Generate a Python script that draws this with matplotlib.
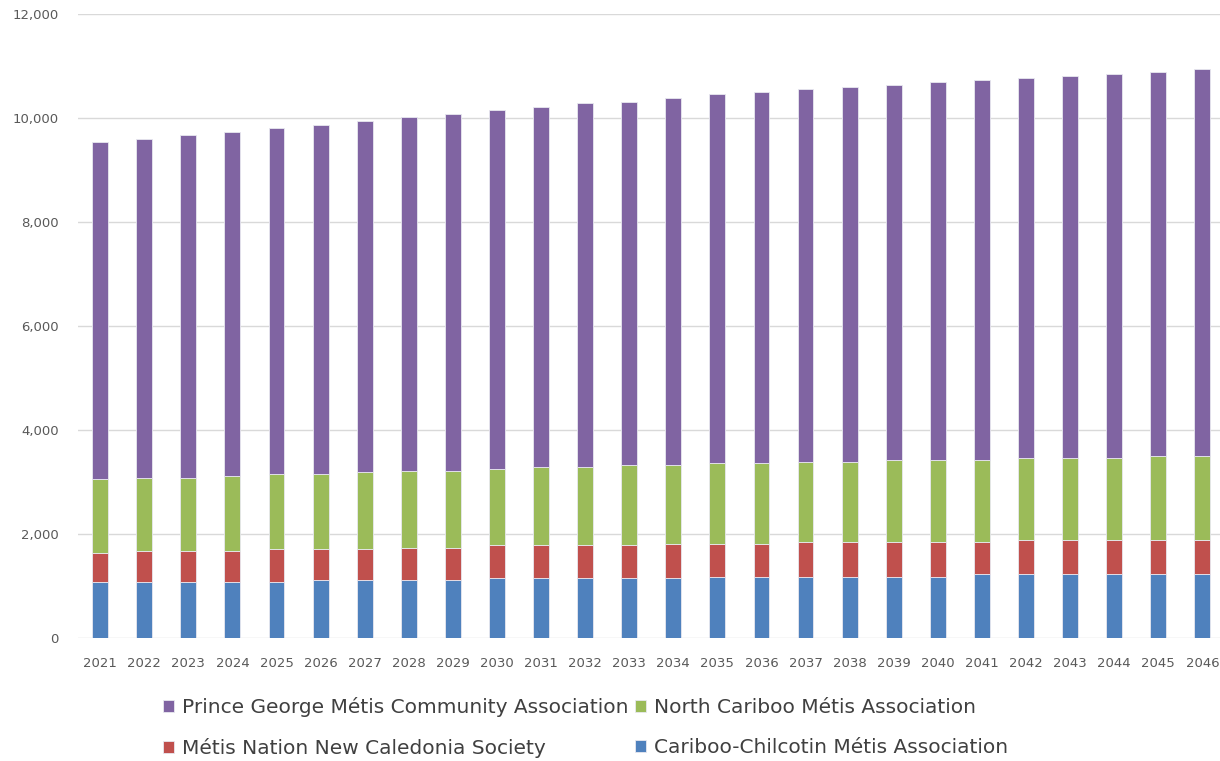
import matplotlib.pyplot as plt
import numpy as np

# 年份
years = [str(y) for y in range(2021, 2047)]

# 各协会人数
cariboo_chilcotin = [1080, 1080, 1080, 1080, 1080, 1119, 1119, 1119, 1119, 1151, 1151, 1151, 1151,
                     1151, 1183, 1183, 1183, 1183, 1183, 1183, 1222, 1222, 1222, 1222, 1222, 1222]
new_caledonia = [553, 585, 585, 585, 624, 585, 585, 617, 617, 630, 630, 630, 630,
                 656, 624, 624, 662, 662, 662, 662, 623, 656, 656, 656, 656, 656]
north_cariboo = [1418, 1418, 1418, 1450, 1450, 1450, 1482, 1482, 1482, 1475, 1507, 1507, 1546,
                 1520, 1552, 1552, 1546, 1546, 1585, 1585, 1585, 1584, 1584, 1584, 1622, 1622]
prince_george = [6481, 6513, 6590, 6622, 6654, 6718, 6756, 6795, 6859, 6891, 6930, 7000, 6987,
                 7058, 7096, 7135, 7167, 7205, 7205, 7269, 7301, 7307, 7346, 7378, 7378, 7442]

labels = ['Cariboo-Chilcotin Métis Association',
          'Métis Nation New Caledonia Society',
          'North Cariboo Métis Association',
          'Prince George Métis Community Association']
colors = ['#4F81BD', '#C0504D', '#9BBB59', '#8064A2']

fig = plt.figure(figsize=(12.2, 7.61), dpi=100)
ax = fig.add_axes([0.064, 0.1616, 0.936, 0.82])

x = np.arange(len(years))
bottom = np.zeros(len(years))
bars = []
for vals, lab, c in zip([cariboo_chilcotin, new_caledonia, north_cariboo, prince_george], labels, colors):
    b = ax.bar(x, vals, width=0.36, bottom=bottom, color=c, label=lab,
               edgecolor='#e8e8f0', linewidth=0.6, zorder=3)
    bars.append(b)
    bottom = bottom + np.array(vals)

ax.set_xlim(-0.5, 25.4)
ax.set_ylim(0, 12000)
ax.set_yticks(range(0, 12001, 2000))
ax.set_yticklabels([f'{v:,}' for v in range(0, 12001, 2000)])
ax.set_xticks(x)
ax.set_xticklabels(years)
ax.tick_params(axis='both', length=0, labelsize=9.5, colors='#595959')
ax.tick_params(axis='y', pad=14)
ax.tick_params(axis='x', pad=14)
ax.grid(axis='y', color='#d9d9d9', linewidth=1, zorder=0)
for s in ax.spines.values():
    s.set_visible(False)

# 图例：紫、红 / 绿、蓝
handles = [bars[3], bars[1], bars[2], bars[0]]
fig.legend(handles, [h.get_label() for h in handles], ncol=2, loc='upper left',
           bbox_to_anchor=(0.119, 0.108), frameon=False, fontsize=14.5,
           handlelength=0.55, handleheight=0.55, handletextpad=0.4,
           columnspacing=0.3, labelspacing=1.07, labelcolor='#404040')

fig.savefig('out.png', dpi=100)
